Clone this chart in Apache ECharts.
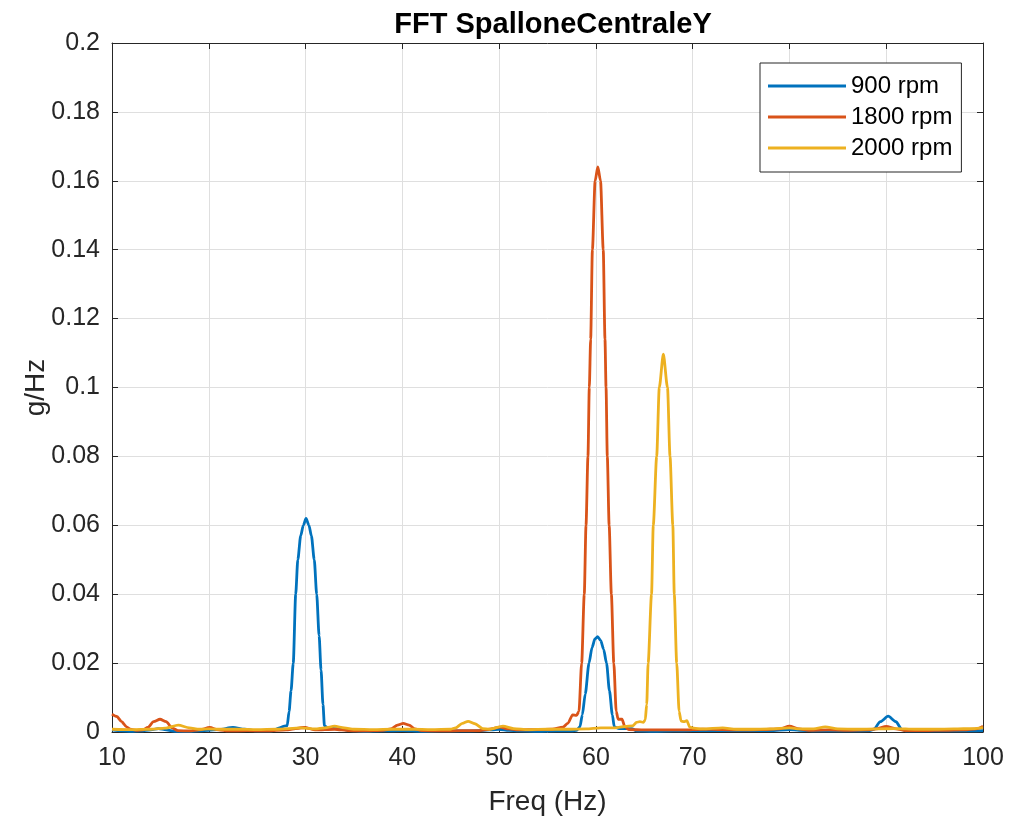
<!DOCTYPE html>
<html>
<head>
<meta charset="utf-8">
<script src="https://cdn.jsdelivr.net/npm/echarts@6/dist/echarts.min.js"></script>
<style>html,body{margin:0;padding:0;background:#fff;}#c{width:1011px;height:818px;}</style>
</head>
<body>
<div id="c"></div>
<script>
const seriesNames = ['900 rpm', '1800 rpm', '2000 rpm'];

const freq900 = [10, 11, 12, 13, 14, 14.8, 15.6, 16.5, 18, 19, 20, 21, 22.5, 23.7, 25, 26.5, 27.3, 27.8, 28.1, 28.3, 28.5, 28.73, 28.98, 29.2, 29.5, 29.77, 30.05, 30.35, 30.6, 30.9, 31.15, 31.4, 31.6, 31.8, 31.95, 32.3, 33, 33.6, 34.5, 36, 38, 40, 42, 44, 46, 48, 50, 51, 52, 54, 56, 57.5, 58.0, 58.35, 58.6, 58.9, 59.29, 59.6, 59.9, 60.18, 60.5, 60.8, 61.1, 61.4, 61.7, 61.9, 62.4, 63.7, 64.2, 66, 68, 70, 72, 75, 78, 80, 81, 83, 86, 88.3, 88.7, 89.4, 90.2, 91.0, 91.6, 92, 95, 98, 100];
const val900 = [0.0006, 0.0003, 0.0002, 0.0003, 0.0006, 0.0010, 0.0006, 0.0002, 0.0002, 0.0003, 0.0005, 0.0007, 0.0013, 0.0008, 0.0003, 0.0003, 0.0012, 0.0017, 0.0018, 0.006, 0.012, 0.02, 0.04, 0.05, 0.057, 0.06, 0.062, 0.06, 0.057, 0.05, 0.04, 0.028, 0.018, 0.008, 0.0018, 0.0012, 0.001, 0.001, 0.0004, 0.0002, 0.0003, 0.0004, 0.0002, 0.0003, 0.0003, 0.0004, 0.0008, 0.0005, 0.0003, 0.0002, 0.0003, 0.0003, 0.0005, 0.0015, 0.005, 0.011, 0.02, 0.0245, 0.027, 0.0277, 0.0265, 0.024, 0.02, 0.012, 0.005, 0.0015, 0.001, 0.001, 0.0003, 0.0002, 0.0003, 0.0004, 0.0004, 0.0004, 0.0004, 0.0007, 0.0005, 0.0003, 0.0003, 0.0004, 0.0008, 0.003, 0.0046, 0.003, 0.0008, 0.0003, 0.0003, 0.0003, 0.0004];

const freq1800 = [10, 10.5, 11, 11.5, 11.9, 12.5, 13.2, 13.7, 14.3, 14.96, 15.6, 16.2, 16.8, 18, 19, 20.1, 21, 22, 24, 26, 28, 29.9, 31, 33, 34.5, 36, 38, 38.8, 39.5, 40.1, 40.7, 41.3, 42, 44, 46, 48, 49, 50.1, 51, 52, 54, 55.5, 56.6, 57.1, 57.6, 58.0, 58.25, 58.53, 58.8, 58.98, 59.18, 59.32, 59.46, 59.64, 59.92, 60.2, 60.48, 60.76, 60.94, 61.05, 61.18, 61.37, 61.6, 61.85, 62.1, 62.3, 62.7, 63.0, 63.4, 65, 67, 69, 71, 73, 75, 77, 79, 80, 81, 82, 84, 86, 88, 89, 90, 91, 92, 94, 96, 98, 99.3, 100];
const val1800 = [0.0052, 0.0045, 0.003, 0.0015, 0.0008, 0.0005, 0.0006, 0.0013, 0.003, 0.0037, 0.003, 0.0012, 0.0004, 0.0003, 0.0006, 0.0013, 0.0006, 0.0003, 0.0004, 0.0003, 0.0006, 0.0013, 0.0006, 0.0008, 0.0004, 0.0003, 0.0005, 0.0009, 0.002, 0.0025, 0.002, 0.0009, 0.0004, 0.0003, 0.0004, 0.0004, 0.0008, 0.0014, 0.0009, 0.0006, 0.0007, 0.0008, 0.0014, 0.0025, 0.005, 0.0048, 0.006, 0.02, 0.04, 0.06, 0.08, 0.1, 0.114, 0.14, 0.16, 0.164, 0.16, 0.14, 0.114, 0.1, 0.08, 0.06, 0.04, 0.02, 0.006, 0.0037, 0.0037, 0.0015, 0.0007, 0.0006, 0.0006, 0.0006, 0.0008, 0.0007, 0.0006, 0.0007, 0.0009, 0.0017, 0.0009, 0.0005, 0.0006, 0.0005, 0.0006, 0.0009, 0.0016, 0.0009, 0.0004, 0.0004, 0.0005, 0.0006, 0.0009, 0.0017];

const freq2000 = [10, 12, 14, 15.5, 16.85, 18, 19, 20, 21, 23, 25, 27, 29.5, 31, 32, 33, 34, 35, 37, 39, 41, 43, 45, 45.5, 46.2, 46.8, 47.5, 48.3, 49, 50.4, 51.5, 53, 55, 57, 59, 60.5, 62, 63, 63.8, 64.2, 64.55, 64.9, 65.1, 65.25, 65.4, 65.75, 65.93, 66.28, 66.55, 66.97, 67.4, 67.66, 67.95, 68.1, 68.35, 68.6, 68.8, 69.1, 69.4, 69.7, 70.1, 71, 73.1, 74.5, 76, 78, 80, 81, 82.5, 83.7, 85, 87, 89, 91, 93, 95, 97, 99, 100];
const val2000 = [0.0008, 0.0007, 0.0008, 0.0011, 0.002, 0.0012, 0.0008, 0.0009, 0.0008, 0.0008, 0.0007, 0.0008, 0.0012, 0.0009, 0.0012, 0.0017, 0.0012, 0.0008, 0.0007, 0.0008, 0.0008, 0.0007, 0.0008, 0.0012, 0.0025, 0.0031, 0.0024, 0.001, 0.0008, 0.0017, 0.001, 0.0007, 0.0008, 0.0008, 0.0009, 0.0012, 0.0012, 0.0016, 0.0018, 0.0028, 0.003, 0.0028, 0.0035, 0.008, 0.02, 0.04, 0.06, 0.08, 0.1, 0.1097, 0.1, 0.08, 0.06, 0.04, 0.02, 0.006, 0.0032, 0.003, 0.0033, 0.0014, 0.0011, 0.0009, 0.0012, 0.0008, 0.0008, 0.0009, 0.0012, 0.0009, 0.0009, 0.0015, 0.0009, 0.0008, 0.0009, 0.001, 0.0008, 0.0008, 0.0009, 0.001, 0.0013];

const colors = ['#0072BD', '#D95319', '#EDB120'];
const xTicks = {min: 10, max: 100, interval: 10};
const yTicks = {min: 0, max: 0.2, interval: 0.02};

function pairs(xs, ys) { return xs.map((x, i) => [x, ys[i]]); }

const chart = echarts.init(document.getElementById('c'), null, {renderer: 'canvas'});
const font = '"Liberation Sans", Arial, Helvetica, sans-serif';
const dark = '#262626';

const tickStyle = {show: true, inside: true, length: 6, lineStyle: {color: dark, width: 1}};

chart.setOption({
  animation: false,
  color: colors,
  textStyle: {fontFamily: font},
  title: {
    text: 'FFT SpalloneCentraleY',
    left: 548, top: 5, textAlign: 'center',
    textStyle: {fontFamily: font, fontWeight: 'bold', fontSize: 29, color: '#000'}
  },
  grid: {left: 112, right: 28, top: 43, bottom: 86, containLabel: false, outerBoundsMode: 'none'},
  legend: {
    data: seriesNames,
    orient: 'vertical',
    left: 760, top: 63,
    icon: 'rect',
    itemWidth: 78, itemHeight: 3,
    itemGap: 7,
    padding: [11, 9, 12, 8],
    borderColor: dark, borderWidth: 1,
    backgroundColor: '#fff',
    textStyle: {fontFamily: font, fontSize: 24, lineHeight: 24, color: '#000'}
  },
  xAxis: [{
    type: 'value', min: xTicks.min, max: xTicks.max, interval: xTicks.interval,
    position: 'bottom',
    name: 'Freq (Hz)', nameLocation: 'middle', nameGap: 56, nameMoveOverlap: false,
    nameTextStyle: {fontFamily: font, fontSize: 28, color: dark},
    axisLine: {show: true, onZero: false, lineStyle: {color: dark, width: 1}},
    axisTick: tickStyle,
    axisLabel: {fontFamily: font, fontSize: 25, color: dark, margin: 14},
    splitLine: {show: true, lineStyle: {color: '#dfdfdf', width: 1}}
  }, {
    type: 'value', min: xTicks.min, max: xTicks.max, interval: xTicks.interval,
    position: 'top',
    axisLine: {show: true, onZero: false, lineStyle: {color: dark, width: 1}},
    axisTick: tickStyle,
    axisLabel: {show: false},
    splitLine: {show: false}
  }],
  yAxis: [{
    type: 'value', min: yTicks.min, max: yTicks.max, interval: yTicks.interval,
    position: 'left',
    name: 'g/Hz', nameLocation: 'middle', nameGap: 62, nameRotate: 90, nameMoveOverlap: false,
    nameTextStyle: {fontFamily: font, fontSize: 28, color: dark},
    axisLine: {show: true, onZero: false, lineStyle: {color: dark, width: 1}},
    axisTick: tickStyle,
    axisLabel: {fontFamily: font, fontSize: 25, color: dark, margin: 12},
    splitLine: {show: true, lineStyle: {color: '#dfdfdf', width: 1}}
  }, {
    type: 'value', min: yTicks.min, max: yTicks.max, interval: yTicks.interval,
    position: 'right',
    axisLine: {show: true, onZero: false, lineStyle: {color: dark, width: 1}},
    axisTick: tickStyle,
    axisLabel: {show: false},
    splitLine: {show: false}
  }],
  series: [
    {name: seriesNames[0], type: 'line', data: pairs(freq900, val900)},
    {name: seriesNames[1], type: 'line', data: pairs(freq1800, val1800)},
    {name: seriesNames[2], type: 'line', data: pairs(freq2000, val2000)}
  ].map((s, i) => Object.assign(s, {
    xAxisIndex: 0, yAxisIndex: 0,
    showSymbol: false, symbol: 'none',
    smooth: 0.25, smoothMonotone: 'x',
    clip: true,
    lineStyle: {width: 2.8, color: colors[i]},
    itemStyle: {color: colors[i]}
  }))
});
</script>
</body>
</html>
